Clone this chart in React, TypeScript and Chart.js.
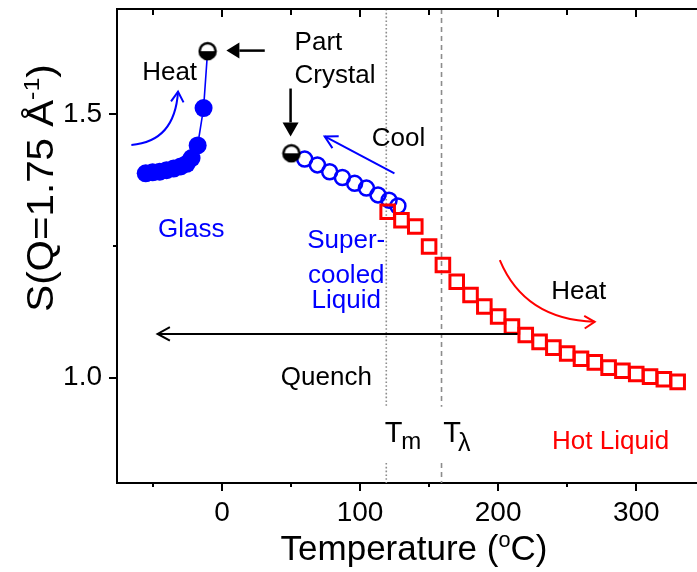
import React, { useEffect, useRef } from 'react';
import { Chart, registerables } from 'chart.js';

Chart.register(...registerables);

// ---- data (temperature in °C, S(Q=1.75 Å^-1)) ----
const glassT = [-55.2, -50.2, -45.1, -40.1, -35.0, -29.9, -25.6, -22.0, -17.6, -13.3];
const glassS = [1.388, 1.390, 1.391, 1.394, 1.397, 1.401, 1.406, 1.417, 1.441, 1.512];

const partCrystalT = [-10.4, 50.3];
const partCrystalS = [1.620, 1.426];

const supercooledT = [59.9, 69.1, 78.0, 87.2, 96.1, 104.6, 113.0, 121.0, 127.4];
const supercooledS = [1.415, 1.404, 1.391, 1.380, 1.369, 1.360, 1.347, 1.337, 1.326];

const hotT = [120, 130, 140, 150, 160, 170, 180, 190, 200, 210, 220, 230, 240, 250, 260, 270, 280, 290, 300, 310, 320, 330];
const hotS = [1.315, 1.299, 1.287, 1.249, 1.214, 1.182, 1.157, 1.135, 1.116, 1.097, 1.081, 1.068, 1.057, 1.046, 1.036, 1.029, 1.019, 1.013, 1.007, 1.002, 0.997, 0.992];

const xMajorTicks = [0, 100, 200, 300];
const xMinorTicks = [-50, 50, 150, 250];
const yMajorTicks = [1.0, 1.5];
const yMinorTicks = [1.25];

const T_m = 119;
const T_lambda = 159;

// ---- styles ----
const FONT = 'Arial, "Liberation Sans", sans-serif';
const BLUE = '#0000ff';
const RED = '#ff0000';
const BLACK = '#000000';

// ---- annotations (data coordinates) ----
const textNotes = [
  { text: 'Heat', x: -37.9, y: 1.565, color: BLACK, align: 'center' },
  { text: 'Part', x: 52.6, y: 1.622, color: BLACK, align: 'left' },
  { text: 'Crystal', x: 52.6, y: 1.559, color: BLACK, align: 'left' },
  { text: 'Cool', x: 108.5, y: 1.439, color: BLACK, align: 'left' },
  { text: 'Glass', x: -22.3, y: 1.268, color: BLUE, align: 'center' },
  { text: 'Super-', x: 90.0, y: 1.246, color: BLUE, align: 'center' },
  { text: 'cooled', x: 90.0, y: 1.179, color: BLUE, align: 'center' },
  { text: 'Liquid', x: 90.0, y: 1.132, color: BLUE, align: 'center' },
  { text: 'Heat', x: 258.4, y: 1.150, color: BLACK, align: 'center' },
  { text: 'Quench', x: 75.6, y: 0.986, color: BLACK, align: 'center' },
  { text: 'Hot Liquid', x: 281.4, y: 0.864, color: RED, align: 'center' },
];

function makeHalfCircle(): HTMLCanvasElement {
  const c = document.createElement('canvas');
  c.width = 20;
  c.height = 20;
  const g = c.getContext('2d')!;
  g.beginPath();
  g.arc(10, 10, 8, 0, Math.PI * 2);
  g.fillStyle = '#ffffff';
  g.fill();
  g.beginPath();
  g.arc(10, 10, 8, 0, Math.PI);
  g.closePath();
  g.fillStyle = BLACK;
  g.fill();
  g.beginPath();
  g.arc(10, 10, 8, 0, Math.PI * 2);
  g.lineWidth = 2.5;
  g.strokeStyle = BLACK;
  g.stroke();
  return c;
}

function openHead(ctx: CanvasRenderingContext2D, tipX: number, tipY: number, fromX: number, fromY: number, len: number, half: number) {
  const a = Math.atan2(tipY - fromY, tipX - fromX);
  ctx.beginPath();
  ctx.moveTo(tipX - len * Math.cos(a - half), tipY - len * Math.sin(a - half));
  ctx.lineTo(tipX, tipY);
  ctx.lineTo(tipX - len * Math.cos(a + half), tipY - len * Math.sin(a + half));
  ctx.stroke();
}

function filledArrow(ctx: CanvasRenderingContext2D, x1: number, y1: number, x2: number, y2: number, len: number, width: number) {
  const a = Math.atan2(y2 - y1, x2 - x1);
  const bx = x2 - len * Math.cos(a);
  const by = y2 - len * Math.sin(a);
  ctx.beginPath();
  ctx.moveTo(x1, y1);
  ctx.lineTo(bx, by);
  ctx.stroke();
  ctx.beginPath();
  ctx.moveTo(x2, y2);
  ctx.lineTo(bx + (width / 2) * Math.sin(a), by - (width / 2) * Math.cos(a));
  ctx.lineTo(bx - (width / 2) * Math.sin(a), by + (width / 2) * Math.cos(a));
  ctx.closePath();
  ctx.fill();
}

type Seg = { t: string; sup?: boolean };
function richText(ctx: CanvasRenderingContext2D, segs: Seg[], cx: number, baseY: number, size: number) {
  const sup = size * 0.62;
  let total = 0;
  const widths = segs.map((s) => {
    ctx.font = `${s.sup ? sup : size}px ${FONT}`;
    const w = ctx.measureText(s.t).width;
    total += w;
    return w;
  });
  let x = cx - total / 2;
  ctx.textAlign = 'left';
  ctx.textBaseline = 'alphabetic';
  segs.forEach((s, i) => {
    ctx.font = `${s.sup ? sup : size}px ${FONT}`;
    ctx.fillText(s.t, x, s.sup ? baseY - size * 0.38 : baseY);
    x += widths[i];
  });
}

const annotationPlugin = {
  id: 'annotationPlugin',
  beforeDatasetsDraw(chart: any) {
    const { ctx, chartArea } = chart;
    const xs = chart.scales.x;
    const ys = chart.scales.y;
    ctx.save();
    ctx.strokeStyle = '#8c8c8c';
    ctx.lineWidth = 1.6;
    const gapTop = ys.getPixelForValue(0.945);
    const gapBot = ys.getPixelForValue(0.838);
    const drawV = (v: number, dash: number[]) => {
      const x = xs.getPixelForValue(v);
      ctx.setLineDash(dash);
      ctx.beginPath();
      ctx.moveTo(x, chartArea.top);
      ctx.lineTo(x, gapTop);
      ctx.moveTo(x, gapBot);
      ctx.lineTo(x, chartArea.bottom);
      ctx.stroke();
    };
    drawV(T_m, [1.6, 2.2]);
    drawV(T_lambda, [5, 4]);
    ctx.restore();
  },
  afterDraw(chart: any) {
    const { ctx, chartArea } = chart;
    const xs = chart.scales.x;
    const ys = chart.scales.y;
    const X = (v: number) => xs.getPixelForValue(v);
    const Y = (v: number) => ys.getPixelForValue(v);
    ctx.save();
    ctx.setLineDash([]);

    // top frame line
    ctx.strokeStyle = BLACK;
    ctx.lineWidth = 2;
    ctx.beginPath();
    ctx.moveTo(chartArea.left - 1, chartArea.top);
    ctx.lineTo(chartArea.right, chartArea.top);
    ctx.stroke();

    // tick marks
    ctx.lineWidth = 2;
    const xTick = (v: number, lenOut: number, lenIn: number) => {
      const x = Math.round(X(v));
      ctx.beginPath();
      ctx.moveTo(x, chartArea.bottom);
      ctx.lineTo(x, chartArea.bottom + lenOut);
      ctx.moveTo(x, chartArea.top);
      ctx.lineTo(x, chartArea.top + lenIn);
      ctx.stroke();
    };
    xMajorTicks.forEach((v) => xTick(v, 8, 8));
    xMinorTicks.forEach((v) => xTick(v, 4, 6));
    const yTick = (v: number, len: number) => {
      const y = Math.round(Y(v));
      ctx.beginPath();
      ctx.moveTo(chartArea.left, y);
      ctx.lineTo(chartArea.left - len, y);
      ctx.stroke();
    };
    yMajorTicks.forEach((v) => yTick(v, 8));
    yMinorTicks.forEach((v) => yTick(v, 4));

    // arrows
    ctx.strokeStyle = BLACK;
    ctx.fillStyle = BLACK;
    ctx.lineWidth = 2.5;
    filledArrow(ctx, X(31), Y(1.621), X(3.2), Y(1.621), 13, 16);
    filledArrow(ctx, X(49.7), Y(1.549), X(49.7), Y(1.458), 14, 16);

    // Quench arrow
    ctx.lineWidth = 2;
    ctx.beginPath();
    ctx.moveTo(X(214), Y(1.083));
    ctx.lineTo(X(-46.6), Y(1.083));
    ctx.stroke();
    openHead(ctx, X(-46.6), Y(1.083), X(0), Y(1.083), 14, 0.5);

    // Cool arrow (blue)
    ctx.strokeStyle = BLUE;
    ctx.lineWidth = 2;
    ctx.beginPath();
    ctx.moveTo(X(124.9), Y(1.388));
    ctx.lineTo(X(74.4), Y(1.458));
    ctx.stroke();
    openHead(ctx, X(74.4), Y(1.458), X(124.9), Y(1.388), 14, 0.5);

    // Heat curved arrow (glass, blue)
    ctx.beginPath();
    ctx.moveTo(X(-65.6), Y(1.442));
    ctx.quadraticCurveTo(X(-34.2), Y(1.448), X(-31.8), Y(1.543));
    ctx.stroke();
    openHead(ctx, X(-31.8), Y(1.543), X(-33.0), Y(1.500), 12, 0.55);

    // Heat curved arrow (hot liquid, red)
    ctx.strokeStyle = RED;
    ctx.beginPath();
    ctx.moveTo(X(201.2), Y(1.223));
    ctx.quadraticCurveTo(X(219.2), Y(1.110), X(269.9), Y(1.106));
    ctx.stroke();
    openHead(ctx, X(269.9), Y(1.106), X(250), Y(1.104), 12, 0.55);

    // text notes
    ctx.textBaseline = 'alphabetic';
    textNotes.forEach((n) => {
      ctx.font = `26px ${FONT}`;
      ctx.fillStyle = n.color;
      ctx.textAlign = n.align as CanvasTextAlign;
      ctx.fillText(n.text, X(n.x), Y(n.y));
    });

    // T_m and T_lambda labels
    ctx.fillStyle = BLACK;
    ctx.textAlign = 'left';
    ctx.font = `29px ${FONT}`;
    let tx = X(117.8);
    ctx.fillText('T', tx, Y(0.878));
    tx += ctx.measureText('T').width - 1;
    ctx.font = `24px ${FONT}`;
    ctx.fillText('m', tx, Y(0.864));
    ctx.font = `29px ${FONT}`;
    let tl = X(160.2);
    ctx.fillText('T', tl, Y(0.878));
    tl += ctx.measureText('T').width - 3;
    ctx.font = `25px ${FONT}`;
    ctx.fillText('λ', tl, Y(0.860));

    // axis titles
    ctx.fillStyle = BLACK;
    richText(ctx, [{ t: 'Temperature (' }, { t: 'o', sup: true }, { t: 'C)' }], 414, 560, 35);
    ctx.save();
    ctx.translate(53, 188);
    ctx.rotate(-Math.PI / 2);
    ctx.scale(1.12, 1);
    richText(ctx, [{ t: 'S(Q=1.75 Å' }, { t: '-1', sup: true }, { t: ')' }], 0, 0, 36);
    ctx.restore();

    ctx.restore();
  },
};

export default function App() {
  const canvasRef = useRef<HTMLCanvasElement | null>(null);

  useEffect(() => {
    if (!canvasRef.current) return;
    const half = makeHalfCircle();
    const pts = (xs: number[], ys: number[]) => xs.map((x, i) => ({ x, y: ys[i] }));
    const glassPath = [...pts(glassT, glassS), { x: partCrystalT[0], y: partCrystalS[0] }];

    const chart = new Chart(canvasRef.current, {
      type: 'scatter',
      data: {
        datasets: [
          {
            label: 'Hot liquid (heating)',
            data: pts(hotT, hotS),
            pointStyle: 'rect',
            pointRadius: 9.6,
            pointBorderWidth: 3,
            pointBorderColor: RED,
            pointBackgroundColor: 'rgba(255,255,255,0)',
            showLine: false,
            order: 0,
          },
          {
            label: 'Part crystal',
            data: pts(partCrystalT, partCrystalS),
            pointStyle: half as any,
            pointRadius: 9,
            showLine: false,
            order: 1,
          },
          {
            label: 'Supercooled liquid',
            data: pts(supercooledT, supercooledS),
            pointStyle: 'circle',
            pointRadius: 7.5,
            pointBorderWidth: 2.5,
            pointBorderColor: BLUE,
            pointBackgroundColor: 'rgba(255,255,255,0)',
            showLine: false,
            order: 2,
          },
          {
            label: 'Glass',
            data: pts(glassT, glassS),
            pointStyle: 'circle',
            pointRadius: 9,
            pointBorderWidth: 0,
            pointBackgroundColor: BLUE,
            pointBorderColor: BLUE,
            showLine: false,
            order: 3,
          },
          {
            label: 'Glass path',
            data: glassPath,
            showLine: true,
            borderColor: BLUE,
            borderWidth: 1.6,
            pointRadius: 0,
            order: 4,
          },
        ],
      },
      options: {
        responsive: false,
        animation: false,
        events: [],
        layout: { autoPadding: false, padding: { top: 9, left: 0, right: 0, bottom: 0 } },
        plugins: {
          legend: { display: false },
          tooltip: { enabled: false },
        },
        scales: {
          x: {
            type: 'linear',
            position: 'bottom',
            min: -76,
            max: 344,
            afterFit: (s: any) => {
              s.height = 89;
              s.paddingLeft = 0;
              s.paddingRight = 0;
              s.paddingTop = 0;
              s.paddingBottom = 0;
            },
            afterBuildTicks: (s: any) => {
              s.ticks = xMajorTicks.map((value) => ({ value }));
            },
            ticks: {
              color: BLACK,
              font: { family: FONT, size: 28 },
              padding: 13,
              maxRotation: 0,
              autoSkip: false,
              callback: (v: any) => String(v),
            },
            grid: { display: false, drawTicks: false },
            border: { display: true, color: BLACK, width: 2 },
          },
          y: {
            type: 'linear',
            position: 'left',
            min: 0.8,
            max: 1.7,
            afterFit: (s: any) => {
              s.width = 117;
              s.paddingLeft = 0;
              s.paddingRight = 0;
              s.paddingTop = 0;
              s.paddingBottom = 0;
            },
            afterBuildTicks: (s: any) => {
              s.ticks = yMajorTicks.map((value) => ({ value }));
            },
            ticks: {
              color: BLACK,
              font: { family: FONT, size: 28 },
              padding: 15,
              autoSkip: false,
              callback: (v: any) => Number(v).toFixed(1),
            },
            grid: { display: false, drawTicks: false },
            border: { display: true, color: BLACK, width: 2 },
          },
        },
      },
      plugins: [annotationPlugin],
    } as any);

    return () => chart.destroy();
  }, []);

  return (
    <div style={{ position: 'absolute', left: 0, top: 0, width: 697, height: 572, background: '#ffffff' }}>
      <canvas ref={canvasRef} width={697} height={572} style={{ display: 'block', width: 697, height: 572 }} />
    </div>
  );
}
